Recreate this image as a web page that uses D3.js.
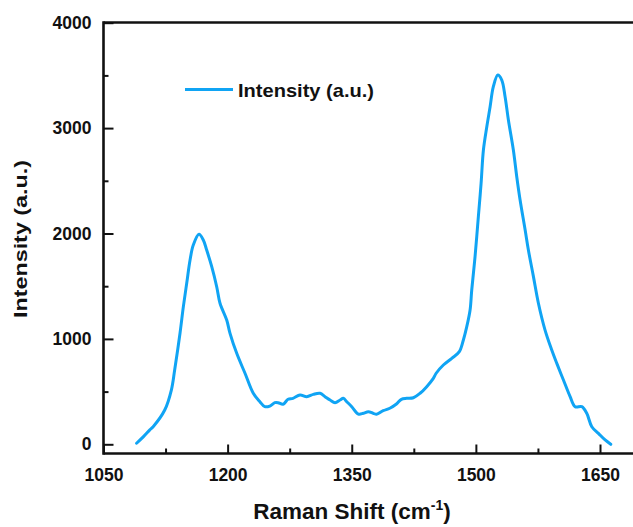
<!DOCTYPE html>
<html>
<head>
<meta charset="utf-8">
<script src="https://cdn.jsdelivr.net/npm/d3@7"></script>
<style>
  html, body { margin: 0; padding: 0; background: #fff; }
  svg { display: block; }
  .lbl { font-family: "Liberation Sans", Arial, sans-serif; font-weight: bold; fill: #111; }
</style>
</head>
<body>
<svg id="chart" width="633" height="527"></svg>
<script>
// Raman spectrum: wavenumber (cm-1) and intensity (a.u.)
const ramanShift = [
  1090, 1098, 1106, 1110, 1124, 1132, 1136, 1142.5, 1146.5, 1150.6, 1154.6, 1158.5,
  1165.4, 1170.6, 1174.7, 1180.8, 1186.8, 1190.8, 1198.9, 1202.9, 1211, 1221, 1231,
  1239, 1245, 1251, 1257, 1261, 1267, 1273, 1279, 1287.5, 1295.6, 1303.6, 1311.7,
  1317.7, 1323.8, 1329.8, 1335.9, 1339.8, 1344, 1350, 1358, 1364, 1370, 1376, 1380,
  1388, 1396, 1404, 1410, 1416.5, 1424.5, 1432.6, 1440.6, 1448.6, 1452, 1460.7, 1470.9,
  1480, 1484.9, 1489, 1493, 1495, 1499, 1503, 1506.3, 1509.1, 1513.2, 1517.2, 1521.1,
  1526.5, 1531.3, 1535.3, 1539.3, 1545.3, 1549.4, 1553.4, 1559.5, 1563.4, 1569.5,
  1575.5, 1583.6, 1591.7, 1597.8, 1605.8, 1613.9, 1619.9, 1628, 1634, 1640.1, 1648.1,
  1656.2, 1663
];
const intensity = [
  10, 70, 137, 167, 325, 515, 705, 1056, 1306, 1530, 1748, 1890,
  1992, 1938, 1843, 1685, 1495, 1338, 1179, 1053, 863, 674, 484,
  404, 357, 363, 395, 395, 380, 427, 436, 468, 452, 474, 484,
  452, 420, 395, 420, 436, 404, 357, 287, 294, 309, 294, 285,
  319, 342, 382, 427, 436, 442, 484, 547, 626, 674, 752, 816,
  879, 990, 1116, 1274, 1464, 1780, 2159, 2476, 2792, 3013, 3203, 3393,
  3504, 3456, 3298, 3077, 2792, 2539, 2320, 2035, 1846, 1593,
  1341, 1084, 895, 768, 610, 452, 357, 357, 294, 167, 104,
  41, 0
];

const xMajorTicks = [1050, 1200, 1350, 1500, 1650];
const xMinorTicks = [1125, 1275, 1425, 1575];
const yMajorTicks = [0, 1000, 2000, 3000, 4000];
const yMinorTicks = [500, 1500, 2500, 3500];

const seriesName = "Intensity (a.u.)";
const xTitle = "Raman Shift (cm";
const yTitle = "Intensity (a.u.)";

const data = ramanShift.map((x, i) => ({ x, y: intensity[i] }));

const svg = d3.select("#chart");
const frameL = 103.5, frameR = 640, frameT = 22.5, frameB = 453.5;

const x = d3.scaleLinear().domain([1050, 1650]).range([frameL, 600]);
const y = d3.scaleLinear().domain([0, 4000]).range([444.3, 22.7]);

const font = '"Liberation Sans", Arial, sans-serif';
const plain = d3.format("d");

// spectrum trace
svg.append("path")
  .datum(data)
  .attr("fill", "none")
  .attr("stroke", "#10a4f4")
  .attr("stroke-width", 3)
  .attr("stroke-linejoin", "round")
  .attr("stroke-linecap", "round")
  .attr("d", d3.line().x(d => x(d.x)).y(d => y(d.y)).curve(d3.curveCatmullRom.alpha(0.5)));

// frame top edge
svg.append("line")
  .attr("x1", frameL).attr("x2", frameR).attr("y1", frameT).attr("y2", frameT)
  .attr("stroke", "#111").attr("stroke-width", 2.6);

// bottom axis
const gx = svg.append("g").attr("transform", `translate(0,${frameB})`)
  .call(d3.axisBottom(x).tickValues(xMajorTicks).tickFormat(plain)
    .tickSizeInner(-9).tickSizeOuter(0).tickPadding(15));
gx.select(".domain").remove();
gx.append("line").attr("x1", frameL).attr("x2", frameR).attr("stroke", "#111").attr("stroke-width", 2.6);
gx.selectAll(".tick line").attr("stroke", "#111").attr("stroke-width", 2);
gx.selectAll(".tick text").attr("class", "lbl").attr("font-size", 17.5).attr("font-family", font);

const gxm = svg.append("g").attr("transform", `translate(0,${frameB})`)
  .call(d3.axisBottom(x).tickValues(xMinorTicks).tickSizeInner(-5).tickSizeOuter(0).tickFormat(""));
gxm.select(".domain").remove();
gxm.selectAll(".tick line").attr("stroke", "#111").attr("stroke-width", 2);

// left axis
const gy = svg.append("g").attr("transform", `translate(${frameL},0)`)
  .call(d3.axisLeft(y).tickValues(yMajorTicks).tickFormat(plain)
    .tickSizeInner(-10).tickSizeOuter(0).tickPadding(12));
gy.select(".domain").remove();
gy.append("line").attr("y1", frameT - 1.3).attr("y2", frameB + 1.3).attr("stroke", "#111").attr("stroke-width", 2.6);
gy.selectAll(".tick line").attr("stroke", "#111").attr("stroke-width", 2);
gy.selectAll(".tick text").attr("class", "lbl").attr("font-size", 17.5).attr("font-family", font);

const gym = svg.append("g").attr("transform", `translate(${frameL},0)`)
  .call(d3.axisLeft(y).tickValues(yMinorTicks).tickSizeInner(-5).tickSizeOuter(0).tickFormat(""));
gym.select(".domain").remove();
gym.selectAll(".tick line").attr("stroke", "#111").attr("stroke-width", 2);

// axis titles
const xt = svg.append("text").attr("class", "lbl")
  .attr("x", 352).attr("y", 519).attr("text-anchor", "middle").attr("font-size", 22.5);
xt.append("tspan").text(xTitle);
xt.append("tspan").attr("font-size", 14).attr("dy", -9).text("-1");
xt.append("tspan").attr("dy", 9).text(")");

svg.append("text").attr("class", "lbl")
  .attr("transform", "translate(27,239) rotate(-90)")
  .attr("text-anchor", "middle").attr("font-size", 18.5)
  .attr("textLength", 158).attr("lengthAdjust", "spacingAndGlyphs")
  .text(yTitle);

// legend
svg.append("line")
  .attr("x1", 185).attr("x2", 233).attr("y1", 89.5).attr("y2", 89.5)
  .attr("stroke", "#10a4f4").attr("stroke-width", 3);
svg.append("text").attr("class", "lbl")
  .attr("x", 238).attr("y", 96.5).attr("font-size", 19)
  .attr("textLength", 136).attr("lengthAdjust", "spacingAndGlyphs")
  .text(seriesName);
</script>
</body>
</html>
